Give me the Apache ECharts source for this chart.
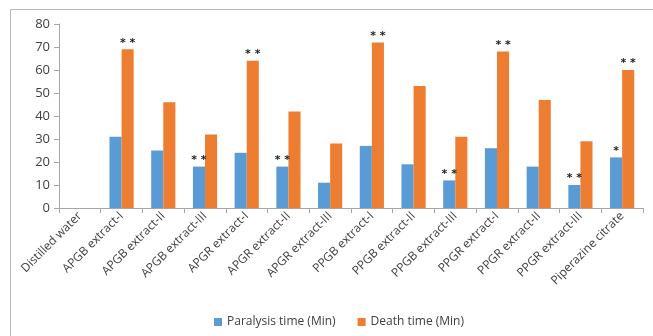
<!DOCTYPE html>
<html><head><meta charset="utf-8">
<script src="https://cdn.jsdelivr.net/npm/echarts@6/dist/echarts.min.js"></script>
<style>html,body{margin:0;padding:0;background:#fff}#c{width:653px;height:336px}</style>
</head><body><div id="c"></div>
<script>
var categories = ['Distilled water','APGB extract-I','APGB extract-II','APGB extract-III','APGR extract-I','APGR extract-II','APGR extract-III','PPGB extract-I','PPGB extract-II','PPGB extract-III','PPGR extract-I','PPGR extract-II','PPGR extract-III','Piperazine citrate'];
var paralysis = [0,31,25,18,24,18,11,27,19,12,26,18,10,22];
var death = [0,69,46,32,64,42,28,72,53,31,68,47,29,60];
var paralysisSig = ['','','','**','','**','','','','**','','','**','*'];
var deathSig = ['','**','','','**','','','**','','','**','','','**'];
var yTicks = [0,10,20,30,40,50,60,70,80];

var chart = echarts.init(document.getElementById('c'));
function sigLabel(sig){
  return {show:true, position:'top', distance:1, fontSize:11, fontWeight:'bold', color:'#222', fontFamily:'DejaVu Sans',
    formatter:function(p){return sig[p.dataIndex].split('').join(' ');}};
}
chart.setOption({
  animation:false,
  textStyle:{fontFamily:'Open Sans'},
  graphic:[{type:'rect', shape:{x:10.5,y:9.5,width:700,height:400}, style:{fill:'none',stroke:'#b8b8b8',lineWidth:1}, silent:true}],
  grid:{left:59,right:10,top:24,bottom:128},
  legend:{bottom:3,left:209,itemWidth:8,itemHeight:8,itemGap:22,icon:'rect',
    textStyle:{fontSize:12,color:'#404040',fontFamily:'Open Sans'},data:['Paralysis time (Min)','Death time (Min)']},
  xAxis:{type:'category',data:categories,
    axisLine:{lineStyle:{color:'#a6a6a6'}},
    axisTick:{show:true,length:5,lineStyle:{color:'#a6a6a6'}},
    axisLabel:{rotate:45,interval:0,fontSize:12,color:'#404040',margin:6}},
  yAxis:{type:'value',min:0,max:80,interval:10,
    axisLine:{show:true,lineStyle:{color:'#a6a6a6'}},
    axisTick:{show:true,length:5,lineStyle:{color:'#a6a6a6'}},
    splitLine:{show:false},
    axisLabel:{fontSize:13,color:'#404040',margin:9,formatter:function(v){return yTicks.indexOf(v)>=0?String(v):'';}}},
  series:[
    {name:'Paralysis time (Min)',type:'bar',data:paralysis,barGap:'0%',barCategoryGap:'42%',
      itemStyle:{color:'#5B9BD5'},label:sigLabel(paralysisSig)},
    {name:'Death time (Min)',type:'bar',data:death,
      itemStyle:{color:'#ED7D31'},label:sigLabel(deathSig)}
  ]
});
</script></body></html>
